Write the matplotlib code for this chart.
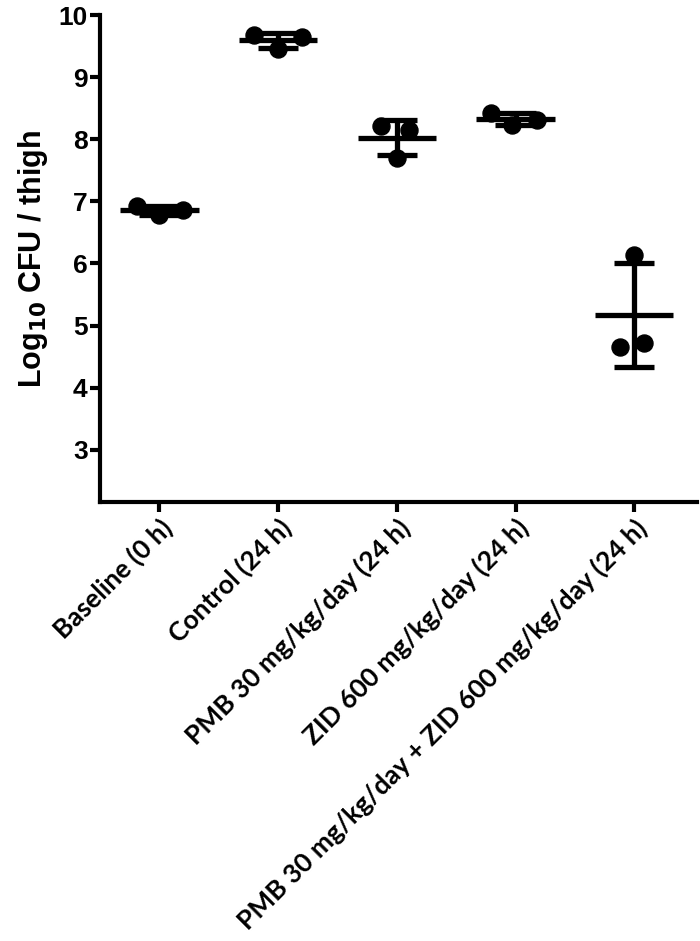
import numpy as np
import matplotlib.pyplot as plt

# Log10 CFU / thigh, three mice per group
groups = ['Baseline (0 h)', 'Control (24 h)', 'PMB 30 mg/kg/day (24 h)',
          'ZID 600 mg/kg/day (24 h)', 'PMB 30 mg/kg/day + ZID 600 mg/kg/day (24 h)']
baseline = [6.92, 6.78, 6.86]
control = [9.68, 9.46, 9.65]
pmb = [8.22, 8.15, 7.70]
zid = [8.43, 8.23, 8.31]
combo = [6.13, 4.65, 4.72]
all_vals = [baseline, control, pmb, zid, combo]

# horizontal spread of dots inside each column
spread = [[-0.19, 0.0, 0.2], [-0.2, 0.0, 0.2], [-0.13, 0.1, 0.0],
          [-0.21, -0.03, 0.18], [0.0, -0.12, 0.08]]

fig = plt.figure(figsize=(7, 9.41), dpi=100)
ax = fig.add_axes([0.143, 0.466, 0.853, 0.518])

for i, vals in enumerate(all_vals):
    vals = np.array(vals)
    m = vals.mean()
    sd = vals.std(ddof=1)
    ax.scatter(i + np.array(spread[i]), vals, s=150, color='black', zorder=3)
    ax.hlines(m, i - 0.33, i + 0.33, color='black', lw=3.8, zorder=4)
    ax.vlines(i, m - sd, m + sd, color='black', lw=3.8, zorder=4)
    ax.hlines([m - sd, m + sd], i - 0.17, i + 0.17, color='black', lw=3.8, zorder=4)

ax.set_xlim(-0.5, 4.53)
ax.set_ylim(2.15, 10)
ax.set_yticks(range(3, 11))
ax.set_xticks(range(len(groups)))
ax.set_xticklabels(groups, rotation=45, ha='right', rotation_mode='anchor',
                   fontsize=19, fontweight='bold', family='Lato')
for lab in ax.get_yticklabels():
    lab.set_fontsize(19)
    lab.set_fontweight('bold')
    lab.set_family('Liberation Sans')

ax.spines['top'].set_visible(False)
ax.spines['right'].set_visible(False)
ax.spines['left'].set_linewidth(3)
ax.spines['bottom'].set_linewidth(3)
ax.tick_params(axis='both', width=3, length=7, pad=2)
ax.tick_params(axis='x', pad=2)

ax.set_ylabel('Log$_{\\mathbf{10}}$ CFU / thigh', fontsize=22, fontweight='bold',
              family='Liberation Sans', labelpad=6)

fig.savefig('out.png', dpi=100)
